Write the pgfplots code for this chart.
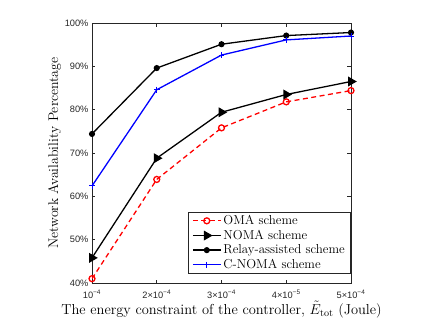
\documentclass[border=0pt]{standalone}
\usepackage{fontspec}
\usepackage{amsmath}
\usepackage{pgfplots}
\pgfplotsset{compat=1.18}
\newfontfamily\tickfont{Liberation Sans}
\definecolor{axgray}{RGB}{38,38,38}

\begin{document}
\begin{tikzpicture}
\useasboundingbox (-92bp,-39bp) rectangle (337bp,283bp);
\begin{axis}[
  at={(0,0)}, anchor=south west,
  scale only axis, width=259bp, height=260bp,
  xmin=1, xmax=5, ymin=40, ymax=100,
  xtick={1,2,3,4,5},
  xticklabels={10\textsuperscript{−4}, 2×10\textsuperscript{−4}, 3×10\textsuperscript{−4},
               4×10\textsuperscript{−5}, 5×10\textsuperscript{−4}},
  ytick={40,50,60,70,80,90,100},
  yticklabels={40\%,50\%,60\%,70\%,80\%,90\%,100\%},
  tick label style={font=\tickfont\fontsize{9.3}{10}\selectfont, text=axgray},
  xticklabel style={yshift=-4bp},
  axis line style={draw=axgray, line width=0.5pt},
  major tick style={draw=axgray, line width=0.5pt},
  major tick length=3.5bp,
  xlabel={The energy constraint of the controller, $\tilde{E}_{\text{tot}}$ (Joule)},
  ylabel={Network Availability Percentage},
  xlabel style={font=\fontsize{14.5}{16}\selectfont, yshift=2.5bp, inner ysep=1pt},
  ylabel style={font=\fontsize{14}{16}\selectfont, yshift=-3bp},
  legend style={at={(1,0.035)}, anchor=south east, draw=axgray, fill=white,
                font=\fontsize{13}{13}\selectfont, row sep=0pt,
                inner xsep=4bp, inner ysep=1.5pt, line width=0.6pt},
  legend cell align=left,
  legend image code/.code={
    \draw[mark repeat=2, mark phase=2, #1]
      plot coordinates {(0bp,0bp) (14bp,0bp) (28bp,0bp)};},
]
\addplot[red, line width=1.3pt, dash pattern=on 5pt off 3.5pt,
         mark=o, mark size=3pt, mark options={solid, line width=1.3pt}]
  coordinates {(1,41.0) (2,63.9) (3,75.8) (4,81.8) (5,84.4)};
\addlegendentry{OMA scheme}
\addplot[black, line width=1.3pt, mark=triangle*, mark size=4.5pt,
         mark options={rotate=-90, solid}]
  coordinates {(1,45.8) (2,68.8) (3,79.4) (4,83.5) (5,86.5)};
\addlegendentry{NOMA scheme}
\addplot[black, line width=1.3pt, mark=*, mark size=2.4pt]
  coordinates {(1,74.4) (2,89.6) (3,95.1) (4,97.1) (5,97.8)};
\addlegendentry{Relay-assisted scheme}
\addplot[blue, line width=1.3pt, mark=+, mark size=3pt,
         mark options={line width=1pt}]
  coordinates {(1,62.4) (2,84.6) (3,92.6) (4,96.1) (5,97.0)};
\addlegendentry{C-NOMA scheme}
\end{axis}
\end{tikzpicture}
\end{document}
